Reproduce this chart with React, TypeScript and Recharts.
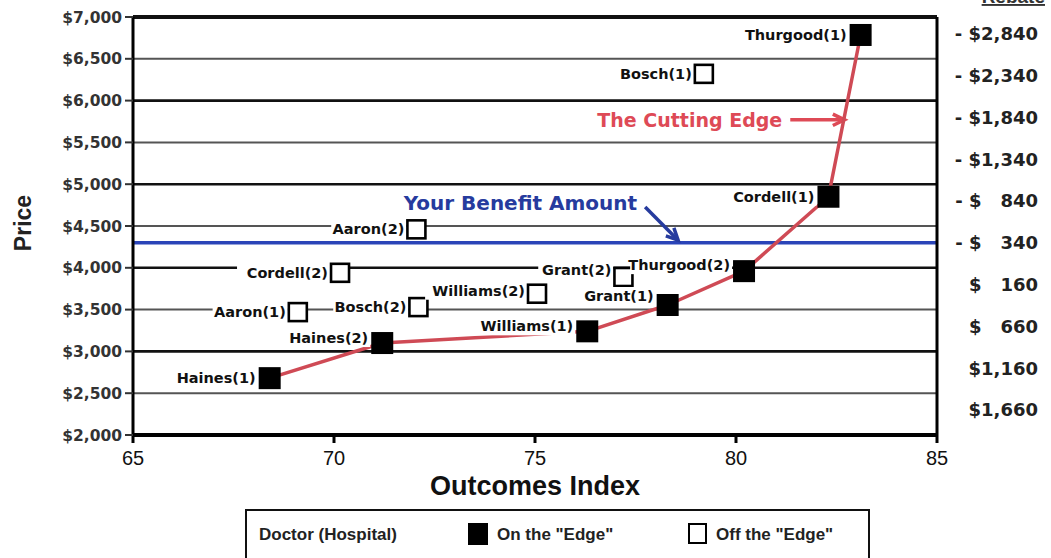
import React from "react";
import {
  ComposedChart,
  Line,
  Scatter,
  XAxis,
  YAxis,
  ReferenceLine,
  Label,
} from "recharts";

const W = 1051;
const H = 558;

// doctors on the curve (filled) and off it (open)
const onEdge = [
  { name: "Haines(1)", x: 68.4, y: 2680 },
  { name: "Haines(2)", x: 71.2, y: 3100 },
  { name: "Williams(1)", x: 76.3, y: 3240 },
  { name: "Grant(1)", x: 78.3, y: 3555 },
  { name: "Thurgood(2)", x: 80.2, y: 3960 },
  { name: "Cordell(1)", x: 82.3, y: 4850 },
  { name: "Thurgood(1)", x: 83.1, y: 6785 },
];

const offEdge = [
  { name: "Aaron(1)", x: 69.1, y: 3470 },
  { name: "Cordell(2)", x: 70.15, y: 3940 },
  { name: "Aaron(2)", x: 72.05, y: 4460 },
  { name: "Bosch(2)", x: 72.1, y: 3530 },
  { name: "Williams(2)", x: 75.05, y: 3690 },
  { name: "Grant(2)", x: 77.2, y: 3890 },
  { name: "Bosch(1)", x: 79.2, y: 6320 },
];

const xTicks = [65, 70, 75, 80, 85];
const priceTicks = [2000, 2500, 3000, 3500, 4000, 4500, 5000, 5500, 6000, 6500, 7000];
const rebateTicks = [6800, 6300, 5800, 5300, 4800, 4300, 3800, 3300, 2800, 2300];
const rebateLabels = [
  "- $2,840",
  "- $2,340",
  "- $1,840",
  "- $1,340",
  "- $   840",
  "- $   340",
  "$   160",
  "$   660",
  "$1,160",
  "$1,660",
];
const benefitAmount = 4300;

// small vertical nudges for labels that sit above their box
const labelDy: Record<string, number> = {
  "Haines(2)": -5,
  "Williams(1)": -5,
  "Grant(1)": -9,
  "Thurgood(2)": -6,
  "Grant(2)": -7,
  "Williams(2)": -3,
};

const LABEL_FONT = "'DejaVu Sans', Verdana, sans-serif";
const ARIAL = "'Liberation Sans', Arial, sans-serif";

function pointShape(filled: boolean) {
  return (props: any) => {
    const { cx, cy, payload } = props;
    const name: string = payload.name;
    const half = filled ? 11 : 9;
    const tx = cx - half - 3;
    const ty = cy + (labelDy[name] ?? 0);
    const tw = name.length * 8.9;
    return (
      <g>
        <rect x={tx - tw - 2} y={ty - 9} width={tw + 4} height={18} fill="#fff" />
        <text
          x={tx}
          y={ty}
          textAnchor="end"
          dominantBaseline="central"
          fontFamily={LABEL_FONT}
          fontWeight="bold"
          fontSize={14.5}
          fill="#111"
        >
          {name}
        </text>
        {filled ? (
          <rect x={cx - half} y={cy - half} width={half * 2} height={half * 2} fill="#000" />
        ) : (
          <rect
            x={cx - half}
            y={cy - half}
            width={half * 2}
            height={half * 2}
            fill="#fff"
            stroke="#000"
            strokeWidth={2.6}
          />
        )}
      </g>
    );
  };
}

function arrow(text: string, color: string, fontSize: number, textDy: number) {
  return (props: any) => {
    const { x1, y1, x2, y2 } = props;
    const a = Math.atan2(y2 - y1, x2 - x1);
    const L = 13;
    const p1 = [x2 - L * Math.cos(a - 0.45), y2 - L * Math.sin(a - 0.45)];
    const p2 = [x2 - L * Math.cos(a + 0.45), y2 - L * Math.sin(a + 0.45)];
    return (
      <g>
        <line x1={x1} y1={y1} x2={x2} y2={y2} stroke={color} strokeWidth={3.5} />
        <polyline
          points={`${p1[0]},${p1[1]} ${x2},${y2} ${p2[0]},${p2[1]}`}
          fill="none"
          stroke={color}
          strokeWidth={3.5}
        />
        <text
          x={x1 - 8}
          y={y1 + textDy}
          textAnchor="end"
          dominantBaseline="central"
          fontFamily={LABEL_FONT}
          fontWeight="bold"
          fontSize={fontSize}
          fill={color}
        >
          {text}
        </text>
      </g>
    );
  };
}

const RebateTick = (props: any) => {
  const { y, index } = props;
  return (
    <text
      x={W - 13}
      y={y}
      textAnchor="end"
      dominantBaseline="central"
      fontFamily={LABEL_FONT}
      fontWeight="bold"
      fontSize={18}
      fill="#222"
      style={{ whiteSpace: "pre" }}
    >
      {rebateLabels[index]}
    </text>
  );
};

export default function App() {
  return (
    <div style={{ position: "absolute", left: 0, top: 0, width: W, height: H, background: "#fff", overflow: "hidden" }}>
      <ComposedChart width={W} height={H} margin={{ top: 17, right: 10, bottom: 63, left: 0 }}>
        <XAxis
          type="number"
          dataKey="x"
          domain={[65, 85]}
          ticks={xTicks}
          allowDataOverflow
          height={60}
          tickSize={8}
          tickMargin={8}
          axisLine={{ stroke: "#000", strokeWidth: 4 }}
          tickLine={{ stroke: "#000", strokeWidth: 3 }}
          tick={{ fill: "#111", fontSize: 20, fontFamily: ARIAL }}
        >
          <Label
            value="Outcomes Index"
            position="insideBottom"
            offset={0}
            style={{ fontFamily: ARIAL, fontWeight: "bold", fontSize: 27, fill: "#111" }}
          />
        </XAxis>
        <YAxis
          type="number"
          dataKey="y"
          domain={[2000, 7000]}
          ticks={priceTicks}
          allowDataOverflow
          width={133}
          tickSize={8}
          tickMargin={3}
          axisLine={{ stroke: "#000", strokeWidth: 3 }}
          tickLine={{ stroke: "#333", strokeWidth: 2 }}
          tickFormatter={(v: number) => "$" + v.toLocaleString("en-US")}
          tick={{ fill: "#333", fontSize: 15.5, fontFamily: LABEL_FONT, fontWeight: "bold" }}
        >
          <Label
            content={(p: any) => {
              const vb = p.viewBox;
              const cx = vb.x + 23;
              const cy = vb.y + vb.height / 2 - 3;
              return (
                <text
                  x={cx}
                  y={cy}
                  transform={`rotate(-90 ${cx} ${cy})`}
                  textAnchor="middle"
                  dominantBaseline="central"
                  fontFamily={ARIAL}
                  fontWeight="bold"
                  fontSize={23}
                  fill="#222"
                >
                  Price
                </text>
              );
            }}
          />
        </YAxis>
        <YAxis
          yAxisId="right"
          orientation="right"
          type="number"
          domain={[2000, 7000]}
          ticks={rebateTicks}
          allowDataOverflow
          width={104}
          tickLine={false}
          axisLine={{ stroke: "#000", strokeWidth: 3 }}
          tick={<RebateTick />}
        >
          <Label
            content={() => (
              <text
                x={W - 6}
                y={3}
                textAnchor="end"
                fontFamily={ARIAL}
                fontWeight="bold"
                fontSize={19}
                fill="#333"
                textDecoration="underline"
              >
                Rebate
              </text>
            )}
          />
        </YAxis>

        {priceTicks.slice(1).map((v) => (
          <ReferenceLine
            key={v}
            y={v}
            stroke={v % 1000 === 0 ? "#111" : "#555"}
            strokeWidth={v === 7000 ? 4 : v % 1000 === 0 ? 2.6 : 2}
          />
        ))}
        <ReferenceLine y={benefitAmount} stroke="#2a44b8" strokeWidth={3.5} />
        <ReferenceLine
          segment={[
            { x: 81.35, y: 5770 },
            { x: 82.7, y: 5770 },
          ]}
          shape={arrow("The Cutting Edge", "#de4a56", 19, 0)}
        />
        <ReferenceLine
          segment={[
            { x: 77.74, y: 4727 },
            { x: 78.56, y: 4330 },
          ]}
          shape={arrow("Your Benefit Amount", "#263b9e", 20, -4)}
        />

        <Line
          data={onEdge}
          dataKey="y"
          type="linear"
          stroke="#cf4a55"
          strokeWidth={3.5}
          strokeLinejoin="round"
          dot={false}
          activeDot={false}
          isAnimationActive={false}
        />
        <Scatter data={offEdge} dataKey="y" shape={pointShape(false)} isAnimationActive={false} />
        <Scatter data={onEdge} dataKey="y" shape={pointShape(true)} isAnimationActive={false} />
      </ComposedChart>

      <div
        style={{
          position: "absolute",
          left: 245,
          top: 509,
          width: 621,
          height: 54,
          border: "2px solid #111",
          background: "#fff",
          fontFamily: ARIAL,
          fontWeight: "bold",
          fontSize: 17,
          color: "#222",
        }}
      >
        <span style={{ position: "absolute", left: 12, top: 14 }}>Doctor (Hospital)</span>
        <span style={{ position: "absolute", left: 221, top: 12, width: 20, height: 22, background: "#000" }} />
        <span style={{ position: "absolute", left: 250, top: 14 }}>On the "Edge"</span>
        <span
          style={{
            position: "absolute",
            left: 441,
            top: 12,
            width: 15,
            height: 17,
            border: "2.5px solid #000",
          }}
        />
        <span style={{ position: "absolute", left: 469, top: 14 }}>Off the "Edge"</span>
      </div>
    </div>
  );
}
